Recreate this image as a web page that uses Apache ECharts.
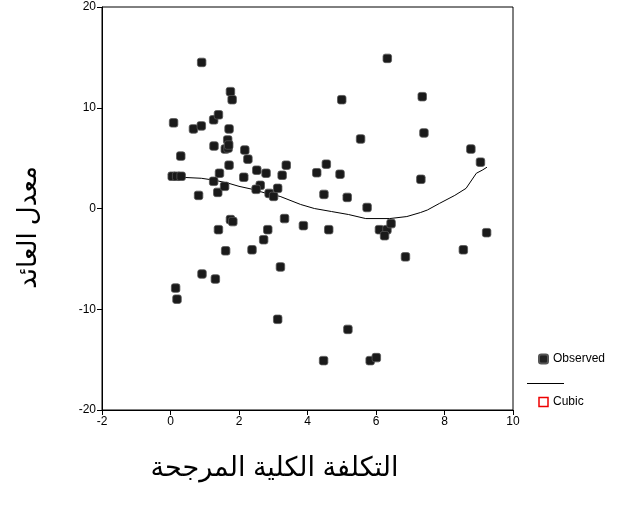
<!DOCTYPE html>
<html><head><meta charset="utf-8">
<script src="https://cdn.jsdelivr.net/npm/echarts@6/dist/echarts.min.js"></script>
<style>html,body{margin:0;padding:0;background:#fff}#c{width:617px;height:510px}</style>
</head><body><div id="c"></div>
<script>
const xTicks = [-2, 0, 2, 4, 6, 8, 10];
const yTicks = [-20, -10, 0, 10, 20];
const xTitle = 'التكلفة الكلية المرجحة';
const yTitle = 'معدل العائد';
const seriesNames = ['Observed', 'Cubic'];
// observed points [x, y]
const observed = [
  [0.91,14.5],[1.75,11.6],[1.80,10.8],[0.09,8.5],[0.67,7.9],[0.90,8.2],[1.26,8.8],[1.40,9.3],
  [1.71,7.9],[1.67,6.8],[1.27,6.2],[1.60,5.9],[1.68,6.0],[1.70,6.3],[2.17,5.8],[2.26,4.9],[0.30,5.2],
  [1.71,4.3],[1.43,3.5],[1.26,2.7],[1.38,1.6],[0.82,1.3],[1.58,2.2],[0.05,3.2],[0.18,3.2],[0.31,3.2],
  [2.14,3.1],[2.52,3.8],[2.79,3.5],[3.38,4.3],[3.26,3.3],[2.62,2.3],[2.50,1.9],[2.88,1.5],[3.01,1.2],
  [3.13,2.0],[4.27,3.55],[6.33,14.9],[5.00,10.8],[7.35,11.1],[5.55,6.9],[7.40,7.5],[8.77,5.9],
  [9.05,4.6],[4.55,4.4],[4.95,3.4],[7.31,2.9],[4.48,1.4],[5.16,1.1],[5.74,0.1],
  [1.75,-1.1],[1.82,-1.3],[1.40,-2.1],[1.61,-4.2],[0.92,-6.5],[1.31,-7.0],[0.15,-7.9],[0.19,-9.0],
  [3.33,-1.0],[3.88,-1.7],[2.84,-2.1],[2.72,-3.1],[2.38,-4.1],[3.21,-5.8],[3.13,-11.0],
  [4.62,-2.1],[6.10,-2.1],[6.32,-2.1],[6.44,-1.5],[6.25,-2.7],[6.86,-4.8],[8.55,-4.1],[9.23,-2.4],
  [5.18,-12.0],[4.47,-15.1],[5.83,-15.1],[6.01,-14.8]
];
// cubic fit line [x, y]
const cubic = [
  [0.05,3.2],[0.3,3.1],[0.9,3.0],[1.3,2.8],[1.7,2.5],[2.0,2.2],[2.4,1.9],[2.8,1.5],[3.2,1.2],
  [3.8,0.4],[4.2,0.0],[4.7,-0.3],[5.2,-0.6],[5.7,-1.0],[6.4,-1.0],[6.9,-0.8],[7.3,-0.4],
  [7.5,-0.15],[7.85,0.5],[8.3,1.3],[8.63,2.0],[8.93,3.5],[9.1,3.8],[9.24,4.1]
];

const font = 'Arial, "Liberation Sans", "DejaVu Sans", sans-serif';
const chart = echarts.init(document.getElementById('c'), null, {renderer: 'canvas'});
chart.setOption({
  animation: false,
  backgroundColor: '#fff',
  grid: {left: 102, top: 7, width: 411, height: 403, show: true, borderColor: '#000', borderWidth: 1, containLabel: false},
  xAxis: {
    type: 'value', min: xTicks[0], max: xTicks[xTicks.length-1], interval: 2,
    name: xTitle, nameLocation: 'middle', nameGap: 45,
    nameTextStyle: {fontFamily: font, fontSize: 27, color: '#000', padding: [0, 66, 0, 0]},
    axisLine: {onZero: false, lineStyle: {color: '#000', width: 1}},
    axisTick: {length: 5, lineStyle: {color: '#000'}},
    axisLabel: {fontFamily: font, fontSize: 12, color: '#000', margin: 6},
    splitLine: {show: false}
  },
  yAxis: {
    type: 'value', min: yTicks[0], max: yTicks[yTicks.length-1], interval: 10,
    name: yTitle, nameLocation: 'middle', nameGap: 60,
    nameTextStyle: {fontFamily: font, fontSize: 26, color: '#000', padding: [0, 38, 0, 0]},
    axisLine: {onZero: false, lineStyle: {color: '#000', width: 1}},
    axisTick: {length: 5, lineStyle: {color: '#000'}},
    axisLabel: {fontFamily: font, fontSize: 12, color: '#000', margin: 6},
    splitLine: {show: false}
  },
  legend: {
    orient: 'vertical', left: 533, top: 348, itemWidth: 9, itemHeight: 9, itemGap: 31,
    textStyle: {fontFamily: font, fontSize: 12, color: '#000'},
    data: [
      {name: seriesNames[0], icon: 'roundRect', itemStyle: {color: '#222'}},
      {name: seriesNames[1], icon: 'rect', itemStyle: {color: '#fff', borderColor: '#e00', borderWidth: 1.5}}
    ]
  },
  graphic: [{type: 'line', shape: {x1: 527, y1: 383.5, x2: 564, y2: 383.5}, style: {stroke: '#000', lineWidth: 1}}],
  series: [
    {name: seriesNames[0], type: 'scatter', data: observed, symbol: 'roundRect', symbolSize: 8.5,
     itemStyle: {color: '#1a1a1a', borderColor: '#555', borderWidth: 0.8, opacity: 1}, z: 3},
    {name: seriesNames[1], type: 'line', data: cubic, showSymbol: false, symbol: 'none', smooth: false,
     lineStyle: {color: '#000', width: 1}, itemStyle: {color: '#e00'}, z: 2}
  ]
});
</script></body></html>
